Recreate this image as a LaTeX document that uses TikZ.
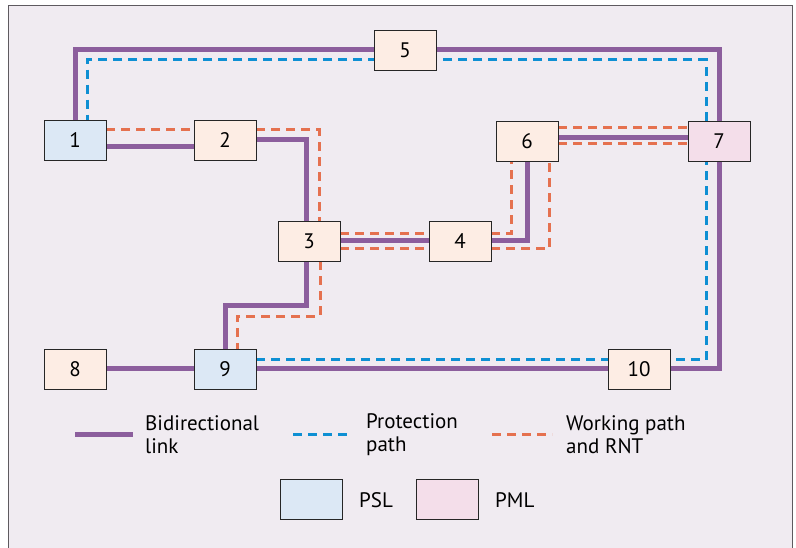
\documentclass[tikz,border=0pt]{standalone}
\usepackage{fontspec}
\setmainfont{PT Sans}
\usetikzlibrary{calc,backgrounds}
\definecolor{panel}{HTML}{F0EBF1}
\definecolor{framegray}{HTML}{5E5A5F}
\definecolor{linkpurple}{HTML}{8C5E9D}
\definecolor{protblue}{HTML}{0E8FD3}
\definecolor{workorange}{HTML}{E5714F}
\definecolor{nodepeach}{HTML}{FDEDE4}
\definecolor{pslblue}{HTML}{DCE8F5}
\definecolor{pmlpink}{HTML}{F4DEEA}
\tikzset{
  netnode/.style={draw=black!85, line width=0.9pt, fill=nodepeach, minimum width=62pt,
    minimum height=40pt, inner sep=0pt, font=\fontsize{21}{23}\selectfont},
  psl/.style={netnode, fill=pslblue},
  pml/.style={netnode, fill=pmlpink},
  link/.style={draw=linkpurple, line width=5pt},
  prot/.style={draw=protblue, line width=3pt, dash pattern=on 9pt off 6pt},
  work/.style={draw=workorange, line width=3pt, dash pattern=on 9pt off 6pt},
  legtext/.style={anchor=west, align=left, inner sep=0pt, font=\fontsize{21}{23}\selectfont}
}
\begin{document}
\begin{tikzpicture}[x=1pt, y=-1pt]
\useasboundingbox (0,0) rectangle (796,548);

% network nodes
\node[psl]     (n1)  at (75,140)  {1};
\node[netnode] (n2)  at (225,140) {2};
\node[netnode] (n3)  at (309,241) {3};
\node[netnode] (n4)  at (460,241) {4};
\node[netnode] (n5)  at (405,50)  {5};
\node[netnode] (n6)  at (527,141) {6};
\node[pml]     (n7)  at (719,141) {7};
\node[netnode] (n8)  at (75,369)  {8};
\node[psl]     (n9)  at (225,369) {9};
\node[netnode] (n10) at (639,369) {10};

% legend swatches
\node[psl] (kpsl) at (311.5,499.5) {};
\node[pml] (kpml) at (447.5,499.5) {};
\node[legtext] (tpsl) at (359,500) {PSL};
\node[legtext] (tpml) at (495,500) {PML};

\coordinate (la1) at (75,434);  \coordinate (la2) at (133,434);
\coordinate (lb1) at (293,434); \coordinate (lb2) at (352,434);
\coordinate (lc1) at (492,434); \coordinate (lc2) at (552,434);
\node[legtext] (ta) at (145,435) {Bidirectional\\link};
\node[legtext] (tb) at (366,435) {Protection\\path};
\node[legtext] (tc) at (566,435) {Working path\\and RNT};

\begin{pgfonlayer}{background}
  % panel and its frame
  \fill[panel] (8.5,548) rectangle (792.5,5.5);
  \draw[framegray, line width=1.6pt] (8.5,548) -- (8.5,5.5) -- (792.5,5.5) -- (792.5,548);

  % bidirectional links
  \draw[link] (n1.north) |- (n5.west);
  \draw[link] (n5.east) -| (n7.north);
  \draw[link] (n7.south) |- (n10.east);
  \draw[link] ($(n1.east)+(0,7)$) -- ($(n2.west)+(0,7)$);
  \draw[link] (n2.east) -| ($(n3.north)+(-3,0)$);
  \draw[link] ($(n3.south)+(-3,0)$) -- ++(0,44) -| (n9.north);
  \draw[link] (n3.east) -- (n4.west);
  \draw[link] (n4.east) -| (n6.south);
  \draw[link] ($(n6.east)+(0,-3)$) -- ($(n7.west)+(0,-3)$);
  \draw[link] (n8.east) -- (n9.west);
  \draw[link] (n9.east) -- (n10.west);

  % protection path
  \draw[prot] ($(n9.east)+(0,-9)$) -| ($(n7.south)+(-13,0)$);
  \draw[prot] ($(n7.north)+(-13,0)$) -- ++(0,-61) -| ($(n1.north)+(12,0)$);

  % working path and RNT
  \draw[work] ($(n1.east)+(0,-10)$) -- ($(n2.west)+(0,-10)$);
  \draw[work] ($(n2.east)+(0,-10)$) -| ($(n3.north)+(10,0)$);
  \draw[work] ($(n3.south)+(11,0)$) -- ++(0,55) -| ($(n9.north)+(12,0)$);
  \draw[work] ($(n3.east)+(0,-7)$) -- ($(n4.west)+(0,-7)$);
  \draw[work] ($(n3.east)+(0,8)$) -- ($(n4.west)+(0,8)$);
  \draw[work] ($(n4.east)+(0,-7)$) -| ($(n6.south)+(-16,0)$);
  \draw[work] ($(n4.east)+(0,8)$) -| ($(n6.south)+(22,0)$);
  \draw[work] ($(n6.east)+(0,-13)$) -- ($(n7.west)+(0,-13)$);
  \draw[work] ($(n6.east)+(0,3)$) -- ($(n7.west)+(0,3)$);

  % legend line samples
  \draw[link] (la1) -- (la2);
  \draw[prot] (lb1) -- (lb2);
  \draw[work] (lc1) -- (lc2);
\end{pgfonlayer}
\end{tikzpicture}
\end{document}
